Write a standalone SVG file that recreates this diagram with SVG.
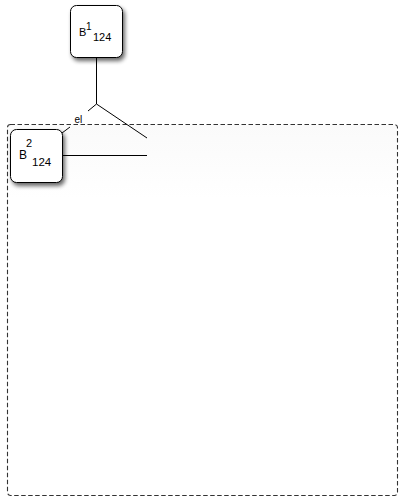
<svg xmlns="http://www.w3.org/2000/svg" width="399" height="497" viewBox="0 0 399 497">
<defs>
<filter id="sh" x="-30%" y="-30%" width="160%" height="160%">
<feGaussianBlur in="SourceAlpha" stdDeviation="2"/>
<feOffset dx="2" dy="3" result="b"/>
<feComponentTransfer><feFuncA type="linear" slope="0.6"/></feComponentTransfer>
<feMerge><feMergeNode/><feMergeNode in="SourceGraphic"/></feMerge>
</filter>
<linearGradient id="cg" x1="0" y1="0" x2="0" y2="1">
<stop offset="0" stop-color="#fafafa"/>
<stop offset="0.2" stop-color="#ffffff"/>
</linearGradient>
<style>
.node{fill:#fff;stroke:#000;stroke-width:1;filter:url(#sh)}
.t{font-family:"Liberation Sans",Arial,sans-serif;fill:#000}
.c{stroke:#000;stroke-width:1;fill:none}
</style>
</defs>
<g id="container">
<rect x="7.5" y="124.5" width="390" height="371" rx="3" fill="url(#cg)" stroke="#333" stroke-width="1.1" stroke-dasharray="4.5,2.5"/>
</g>
<g id="connectors">
<line class="c" x1="96.5" y1="57" x2="96.5" y2="104"/>
<line class="c" x1="96.5" y1="104" x2="147" y2="138"/>
<line class="c" x1="96.5" y1="104" x2="88" y2="111"/>
<line class="c" x1="70" y1="127" x2="62" y2="133"/>
<line class="c" x1="62" y1="155.5" x2="147" y2="155.5"/>
<text class="t" x="74.5" y="123" font-size="10">el</text>
</g>
<g id="B1_124">
<rect class="node" x="70.5" y="5.5" width="52" height="52" rx="6"/>
<text class="t" x="79" y="36" font-size="11">B</text>
<text class="t" x="86" y="30" font-size="10">1</text>
<text class="t" x="93" y="41" font-size="11">124</text>
</g>
<g id="B2_124">
<rect class="node" x="10.5" y="129.5" width="52" height="53" rx="6"/>
<text class="t" x="19" y="159" font-size="12">B</text>
<text class="t" x="26" y="147" font-size="11">2</text>
<text class="t" x="32" y="166" font-size="11.5">124</text>
</g>
</svg>
